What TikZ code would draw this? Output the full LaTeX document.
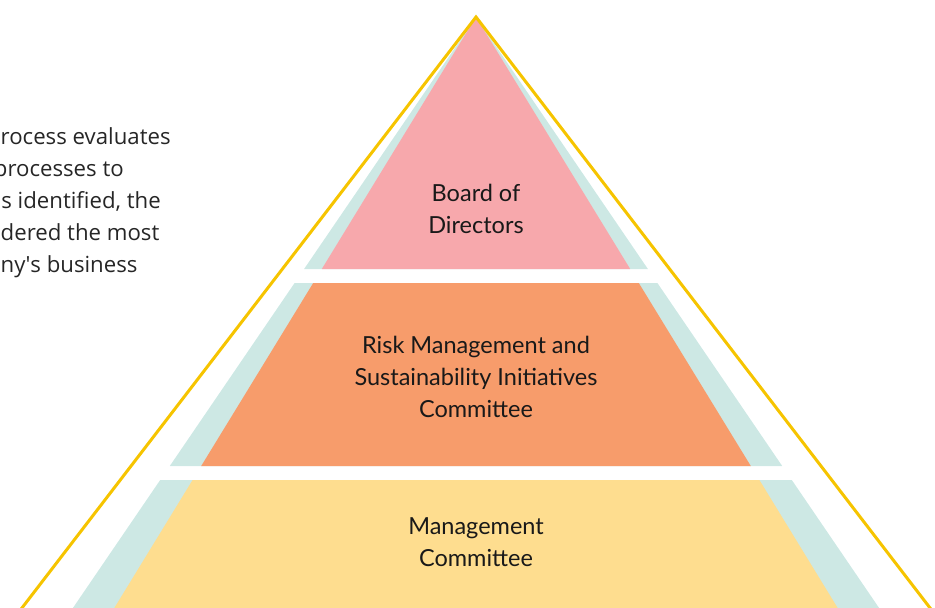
\documentclass[tikz,border=0pt]{standalone}
\usepackage{fontspec}
\setmainfont{Lato}
\newfontfamily\sidefont{Open Sans}
\definecolor{tealbg}{HTML}{CDE8E4}
\definecolor{pinkt}{HTML}{F7A8AC}
\definecolor{oranget}{HTML}{F79C6B}
\definecolor{yellowt}{HTML}{FEDD8F}
\definecolor{outl}{HTML}{F6C400}
\begin{document}
\begin{tikzpicture}[x=1pt,y=-1pt,
  lbl/.style={align=center,inner sep=0pt,font=\fontsize{23.5}{32}\selectfont,text=black!90},
  side/.style={inner sep=0pt,font=\sidefont\fontsize{22.2}{32}\selectfont,text=black!85}]
\useasboundingbox (0,0) rectangle (935,608);
\clip (0,0) rectangle (935,608);
% tier 1
\fill[tealbg] (476,17) -- (647.9,269) -- (304.1,269) -- cycle;
\fill[pinkt] (476,17) -- (630.2,269) -- (321.8,269) -- cycle;
% tier 2
\fill[tealbg] (294.6,283) -- (657.4,283) -- (782.2,466) -- (169.8,466) -- cycle;
\fill[oranget] (313.2,283) -- (638.8,283) -- (750.8,466) -- (201.2,466) -- cycle;
% tier 3
\fill[tealbg] (160.2,480) -- (791.8,480) -- (879.1,608) -- (72.9,608) -- cycle;
\fill[yellowt] (192.6,480) -- (759.4,480) -- (837.7,608) -- (114.3,608) -- cycle;
% outline
\draw[outl,line width=3pt,miter limit=20] (15.4,616.5) -- (476,17) -- (936.6,616.5);
% labels
\node[lbl] (bod) at (476,209) {Board of\\Directors};
\node[lbl] (rms) at (476,377) {Risk Management and\\Sustainability Initiatives\\Committee};
\node[lbl] (mc) at (476,542) {Management\\Committee};
% side text
\node[side,anchor=base west] (s1) at (0.5,144) {rocess evaluates};
\node[side,anchor=base east] (s2) at (124,176) {processes to};
\node[side,anchor=base east] (s3) at (161,208) {s identified, the};
\node[side,anchor=base west] (s4) at (0.5,240) {dered the most};
\node[side,anchor=base west] (s5) at (0.5,272) {ny\textquotesingle s business};
\end{tikzpicture}
\end{document}
